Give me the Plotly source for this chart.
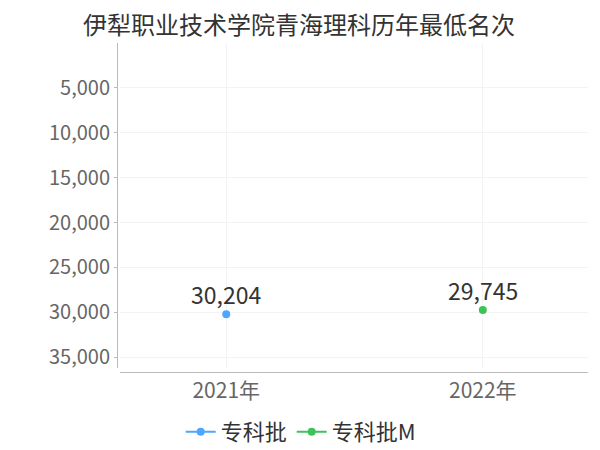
import plotly.graph_objects as go

title = "伊犁职业技术学院青海理科历年最低名次"
series_names = ["专科批", "专科批M"]
years = ["2021年", "2022年"]
series_x = [["2021年"], ["2022年"]]
series_y = [[30204], [29745]]
colors = ["#4da6ff", "#3cc45a"]
y_ticks = [5000, 10000, 15000, 20000, 25000, 30000, 35000]

font_family = "Noto Sans CJK SC, sans-serif"

# the page adds an 8px body margin, so the figure is drawn 8px smaller
W, H = 592, 442

fig = go.Figure()
for name, xs, ys, c in zip(series_names, series_x, series_y, colors):
    fig.add_trace(go.Scatter(
        x=xs, y=ys, name=name,
        mode="lines+markers",
        line=dict(color=c, width=2),
        marker=dict(size=8, color=c),
        cliponaxis=False,
    ))
    # value labels just above each point
    for xv, yv in zip(xs, ys):
        fig.add_annotation(
            x=xv, y=yv, text=f"{yv:,}", showarrow=False,
            yanchor="bottom", yshift=1,
            font=dict(size=23, color="#333333"),
        )

fig.update_layout(
    width=W, height=H,
    margin=dict(l=109, r=12, t=35, b=78, autoexpand=False),
    paper_bgcolor="white", plot_bgcolor="white",
    font=dict(family=font_family, color="#666666"),
    title=dict(text=title, x=0.4916, xanchor="center", y=0.98, yanchor="top",
               font=dict(size=24, color="#333333")),
    showlegend=True,
    legend=dict(orientation="h", x=0.39, xanchor="center", y=-0.182, yanchor="middle",
                font=dict(size=22, color="#333333"), itemwidth=30,
                tracegroupgap=0),
)
fig.update_xaxes(
    type="category", categoryorder="array", categoryarray=years,
    range=[-0.414, 1.41], domain=[0.0064, 1],
    anchor="free", position=0,
    showgrid=True, gridcolor="#f3f3f3",
    showline=True, linecolor="#bbbbbb", linewidth=1,
    ticks="", tickfont=dict(size=21, color="#666666"),
    zeroline=False, automargin=False,
)
fig.update_yaxes(
    autorange=False, range=[36200, 0], domain=[0.012, 1],
    anchor="free", position=0,
    tickvals=y_ticks, tickformat=",",
    showgrid=True, gridcolor="#f3f3f3",
    showline=True, linecolor="#bbbbbb", linewidth=1,
    ticks="outside", ticklen=3, tickcolor="#bbbbbb",
    tickfont=dict(size=20, color="#666666"),
    zeroline=False, automargin=False,
)

fig.write_html("out.html")
